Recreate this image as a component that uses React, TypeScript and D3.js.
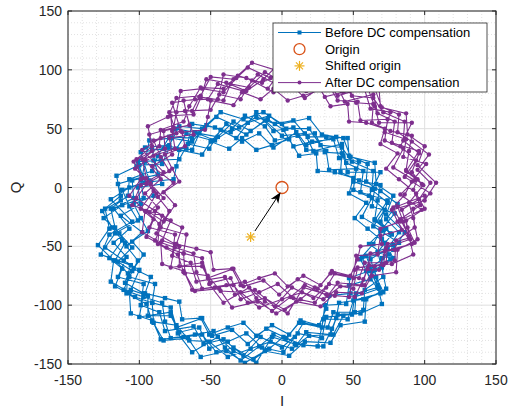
import React from 'react';
import * as d3 from 'd3';

const W = 508;
const H = 409;
const margin = { top: 11, right: 12, bottom: 45, left: 68 };

const xTicks = [-150, -100, -50, 0, 50, 100, 150];
const yTicks = [-150, -100, -50, 0, 50, 100, 150];

// I/Q samples before DC compensation
const beforeDC: [number, number][] = [
  [76, -39], [69, -29], [74, -13], [63, -2], [64, 14], [49, 22], [42, 34], [27, 36], [19, 50], [3, 50],
  [-9, 61], [-24, 55], [-36, 47], [-53, 53], [-63, 42], [-79, 43], [-87, 27], [-91, 14], [-107, 7], [-108, -7],
  [-120, -18], [-117, -34], [-110, -47], [-117, -62], [-108, -73], [-109, -90], [-95, -99], [-91, -114], [-74, -117], [-65, -130],
  [-51, -131], [-38, -144], [-22, -137], [-8, -131], [7, -137], [19, -126], [36, -125], [43, -109], [57, -104], [58, -87],
  [71, -76], [70, -60],
  [82, -47], [64, -33], [72, -19], [61, -7], [69, 13], [46, 13], [43, 27], [38, 43], [17, 36], [8, 51],
  [-6, 48], [-18, 64], [-32, 42], [-47, 51], [-63, 54], [-67, 33], [-83, 33], [-99, 30], [-93, 6], [-107, 0],
  [-120, -10], [-105, -29], [-121, -40], [-127, -57], [-106, -66], [-110, -81], [-97, -90], [-100, -110], [-78, -106], [-73, -124],
  [-63, -140], [-45, -127], [-34, -139], [-18, -149], [-7, -127], [9, -133], [25, -135], [29, -112], [46, -112], [50, -96],
  [69, -90], [59, -71], [76, -61],
  [61, -48], [71, -36], [56, -25], [63, -9], [50, -2], [52, 16], [33, 15], [31, 31], [17, 32], [10, 47],
  [-6, 34], [-16, 46], [-28, 39], [-43, 49], [-51, 33], [-66, 37], [-72, 24], [-90, 23], [-84, 3], [-101, 0],
  [-99, -14], [-113, -24], [-98, -38], [-109, -50], [-101, -62], [-107, -76], [-89, -82], [-91, -98], [-78, -102], [-74, -119],
  [-56, -111], [-49, -126], [-35, -121], [-24, -133], [-11, -120], [3, -128], [12, -115], [28, -119], [30, -100], [45, -99],
  [47, -83], [62, -78], [55, -61],
  [78, -53], [86, -38], [73, -23], [78, -7], [66, 3], [65, 21], [48, 26], [43, 42], [28, 45], [19, 59],
  [0, 54], [-13, 64], [-27, 58], [-43, 64], [-56, 50], [-72, 52], [-79, 36], [-96, 34], [-102, 18], [-116, 10],
  [-113, -7], [-124, -18], [-121, -35], [-129, -49], [-118, -62], [-120, -80], [-107, -89], [-106, -107], [-91, -113], [-83, -130],
  [-66, -128], [-57, -144], [-39, -139], [-26, -149], [-12, -139], [5, -143], [16, -131], [34, -132], [41, -117], [58, -114],
  [59, -95], [73, -86], [70, -68],
  [67, -55], [77, -40], [65, -28], [74, -11], [55, -4], [57, 14], [45, 21], [42, 37], [22, 31], [16, 46],
  [0, 44], [-12, 57], [-25, 45], [-39, 54], [-49, 40], [-67, 46], [-74, 33], [-91, 32], [-87, 11], [-105, 6],
  [-104, -9], [-118, -18], [-107, -35], [-118, -47], [-109, -59], [-115, -76], [-97, -82], [-99, -100], [-86, -106], [-82, -122],
  [-62, -118], [-55, -133], [-41, -129], [-27, -143], [-15, -127], [0, -136], [11, -124], [28, -128], [31, -110], [49, -108],
  [51, -93], [68, -86], [61, -69], [75, -57], [70, -44],
  [73, -35], [65, -27], [67, -11], [69, 2], [54, 6], [41, 13], [42, 29], [30, 30], [23, 46], [11, 44],
  [-5, 40], [-12, 52], [-26, 61], [-35, 50], [-47, 40], [-61, 47], [-75, 50], [-79, 34], [-84, 20], [-100, 19],
  [-99, 6], [-97, -9], [-112, -15], [-125, -26], [-114, -39], [-105, -51], [-115, -63], [-105, -71], [-111, -87], [-97, -93],
  [-84, -98], [-82, -114], [-78, -128], [-61, -125], [-48, -122], [-40, -136], [-29, -147], [-16, -135], [-6, -125], [10, -134],
  [17, -123], [34, -125], [38, -111], [40, -98], [57, -95], [71, -89], [66, -76], [62, -61], [74, -52],
  [82, -38], [73, -27], [81, -14], [69, -3], [59, 5], [60, 20], [47, 27], [46, 42], [31, 43], [18, 43],
  [8, 57], [-5, 54], [-18, 60], [-30, 51], [-46, 60], [-54, 51], [-63, 39], [-78, 42], [-93, 40], [-96, 22],
  [-98, 9], [-115, 3], [-113, -11], [-126, -20], [-119, -34], [-112, -45], [-121, -60], [-112, -69], [-117, -84], [-103, -93],
  [-91, -98], [-90, -115], [-85, -129], [-69, -127], [-56, -125], [-46, -140], [-34, -136], [-20, -146], [-9, -137], [1, -127],
  [15, -134], [29, -135], [35, -120], [39, -108], [55, -107], [70, -99], [67, -83], [65, -70], [78, -60], [72, -47],
  [60, -35], [51, -26], [59, -13], [47, -5], [50, 8], [37, 13], [25, 14], [24, 29], [12, 27], [5, 41],
  [-7, 36], [-18, 32], [-28, 42], [-37, 33], [-50, 39], [-56, 28], [-72, 32], [-74, 18], [-76, 7], [-92, 5],
  [-90, -7], [-104, -14], [-99, -26], [-94, -37], [-105, -46], [-97, -57], [-104, -69], [-92, -76], [-96, -90], [-82, -94],
  [-72, -97], [-70, -112], [-57, -111], [-51, -125], [-38, -119], [-27, -115], [-18, -126], [-7, -117], [5, -125], [13, -113],
  [26, -117], [31, -103], [33, -92], [48, -90], [47, -77], [61, -71], [56, -59], [64, -48],
  [69, -37], [79, -22], [63, -16], [65, -1], [50, 5], [54, 22], [40, 25], [36, 41], [21, 39], [8, 35],
  [1, 49], [-10, 58], [-22, 48], [-34, 56], [-45, 43], [-58, 46], [-63, 32], [-80, 35], [-85, 23], [-101, 22],
  [-96, 4], [-112, -2], [-107, -16], [-101, -28], [-117, -39], [-124, -51], [-111, -62], [-100, -70], [-106, -87], [-94, -92],
  [-94, -109], [-78, -109], [-72, -123], [-58, -119], [-51, -137], [-38, -131], [-25, -124], [-14, -136], [1, -140], [9, -127],
  [15, -115], [32, -119], [36, -106], [51, -106], [52, -90], [67, -85], [63, -71], [59, -58], [78, -49],
];

// I/Q samples after DC compensation
const afterDC: [number, number][] = [
  [98, 3], [91, 13], [96, 29], [85, 40], [86, 56], [71, 64], [64, 76], [49, 78], [41, 92], [25, 92],
  [13, 103], [-2, 97], [-14, 89], [-31, 95], [-41, 84], [-57, 85], [-65, 69], [-69, 56], [-85, 49], [-86, 35],
  [-98, 24], [-95, 8], [-88, -5], [-95, -20], [-86, -31], [-87, -48], [-73, -57], [-69, -72], [-52, -75], [-43, -88],
  [-29, -89], [-16, -102], [0, -95], [14, -89], [29, -95], [41, -84], [58, -83], [65, -67], [79, -62], [80, -45],
  [93, -34], [92, -18],
  [104, -5], [86, 9], [94, 23], [83, 35], [91, 55], [68, 55], [65, 69], [60, 85], [39, 78], [30, 93],
  [16, 90], [4, 106], [-10, 84], [-25, 93], [-41, 96], [-45, 75], [-61, 75], [-77, 72], [-71, 48], [-85, 42],
  [-98, 32], [-83, 13], [-99, 2], [-105, -15], [-84, -24], [-88, -39], [-75, -48], [-78, -68], [-56, -64], [-51, -82],
  [-41, -98], [-23, -85], [-12, -97], [4, -107], [15, -85], [31, -91], [47, -93], [51, -70], [68, -70], [72, -54],
  [91, -48], [81, -29], [98, -19],
  [83, -6], [93, 6], [78, 17], [85, 33], [72, 40], [74, 58], [55, 57], [53, 73], [39, 74], [32, 89],
  [16, 76], [6, 88], [-6, 81], [-21, 91], [-29, 75], [-44, 79], [-50, 66], [-68, 65], [-62, 45], [-79, 42],
  [-77, 28], [-91, 18], [-76, 4], [-87, -8], [-79, -20], [-85, -34], [-67, -40], [-69, -56], [-56, -60], [-52, -77],
  [-34, -69], [-27, -84], [-13, -79], [-2, -91], [11, -78], [25, -86], [34, -73], [50, -77], [52, -58], [67, -57],
  [69, -41], [84, -36], [77, -19],
  [100, -11], [108, 4], [95, 19], [100, 35], [88, 45], [87, 63], [70, 68], [65, 84], [50, 87], [41, 101],
  [22, 96], [9, 106], [-5, 100], [-21, 106], [-34, 92], [-50, 94], [-57, 78], [-74, 76], [-80, 60], [-94, 52],
  [-91, 35], [-102, 24], [-99, 7], [-107, -7], [-96, -20], [-98, -38], [-85, -47], [-84, -65], [-69, -71], [-61, -88],
  [-44, -86], [-35, -102], [-17, -97], [-4, -107], [10, -97], [27, -101], [38, -89], [56, -90], [63, -75], [80, -72],
  [81, -53], [95, -44], [92, -26],
  [89, -13], [99, 2], [87, 14], [96, 31], [77, 38], [79, 56], [67, 63], [64, 79], [44, 73], [38, 88],
  [22, 86], [10, 99], [-3, 87], [-17, 96], [-27, 82], [-45, 88], [-52, 75], [-69, 74], [-65, 53], [-83, 48],
  [-82, 33], [-96, 24], [-85, 7], [-96, -5], [-87, -17], [-93, -34], [-75, -40], [-77, -58], [-64, -64], [-60, -80],
  [-40, -76], [-33, -91], [-19, -87], [-5, -101], [7, -85], [22, -94], [33, -82], [50, -86], [53, -68], [71, -66],
  [73, -51], [90, -44], [83, -27], [97, -15], [92, -2],
  [95, 7], [87, 15], [89, 31], [91, 44], [76, 48], [63, 55], [64, 71], [52, 72], [45, 88], [33, 86],
  [17, 82], [10, 94], [-4, 103], [-13, 92], [-25, 82], [-39, 89], [-53, 92], [-57, 76], [-62, 62], [-78, 61],
  [-77, 48], [-75, 33], [-90, 27], [-103, 16], [-92, 3], [-83, -9], [-93, -21], [-83, -29], [-89, -45], [-75, -51],
  [-62, -56], [-60, -72], [-56, -86], [-39, -83], [-26, -80], [-18, -94], [-7, -105], [6, -93], [16, -83], [32, -92],
  [39, -81], [56, -83], [60, -69], [62, -56], [79, -53], [93, -47], [88, -34], [84, -19], [96, -10],
  [104, 4], [95, 15], [103, 28], [91, 39], [81, 47], [82, 62], [69, 69], [68, 84], [53, 85], [40, 85],
  [30, 99], [17, 96], [4, 102], [-8, 93], [-24, 102], [-32, 93], [-41, 81], [-56, 84], [-71, 82], [-74, 64],
  [-76, 51], [-93, 45], [-91, 31], [-104, 22], [-97, 8], [-90, -3], [-99, -18], [-90, -27], [-95, -42], [-81, -51],
  [-69, -56], [-68, -73], [-63, -87], [-47, -85], [-34, -83], [-24, -98], [-12, -94], [2, -104], [13, -95], [23, -85],
  [37, -92], [51, -93], [57, -78], [61, -66], [77, -65], [92, -57], [89, -41], [87, -28], [100, -18], [94, -5],
  [82, 7], [73, 16], [81, 29], [69, 37], [72, 50], [59, 55], [47, 56], [46, 71], [34, 69], [27, 83],
  [15, 78], [4, 74], [-6, 84], [-15, 75], [-28, 81], [-34, 70], [-50, 74], [-52, 60], [-54, 49], [-70, 47],
  [-68, 35], [-82, 28], [-77, 16], [-72, 5], [-83, -4], [-75, -15], [-82, -27], [-70, -34], [-74, -48], [-60, -52],
  [-50, -55], [-48, -70], [-35, -69], [-29, -83], [-16, -77], [-5, -73], [4, -84], [15, -75], [27, -83], [35, -71],
  [48, -75], [53, -61], [55, -50], [70, -48], [69, -35], [83, -29], [78, -17], [86, -6],
  [91, 5], [101, 20], [85, 26], [87, 41], [72, 47], [76, 64], [62, 67], [58, 83], [43, 81], [30, 77],
  [23, 91], [12, 100], [0, 90], [-12, 98], [-23, 85], [-36, 88], [-41, 74], [-58, 77], [-63, 65], [-79, 64],
  [-74, 46], [-90, 40], [-85, 26], [-79, 14], [-95, 3], [-102, -9], [-89, -20], [-78, -28], [-84, -45], [-72, -50],
  [-72, -67], [-56, -67], [-50, -81], [-36, -77], [-29, -95], [-16, -89], [-3, -82], [8, -94], [23, -98], [31, -85],
  [37, -73], [54, -77], [58, -64], [73, -64], [74, -48], [89, -43], [85, -29], [81, -16], [100, -7],
];

const origin: [number, number] = [0, 0];
const shiftedOrigin: [number, number] = [-22, -42];
const arrowFrom: [number, number] = [-19, -37];
const arrowTo: [number, number] = [-1, -4];

const legendLabels = ['Before DC compensation', 'Origin', 'Shifted origin', 'After DC compensation'];

const BLUE = '#0072BD';
const RED = '#D95319';
const YELLOW = '#EDB120';
const PURPLE = '#7E2F8E';
const AXIS = '#262626';
const FONT = '"Liberation Sans", Arial, Helvetica, sans-serif';

const Star = ({ cx, cy, r }: { cx: number; cy: number; r: number }) => (
  <g stroke={YELLOW} strokeWidth={1.2}>
    {[0, 45, 90, 135].map(a => {
      const dx = r * Math.cos((a * Math.PI) / 180);
      const dy = r * Math.sin((a * Math.PI) / 180);
      return <line key={a} x1={cx - dx} y1={cy - dy} x2={cx + dx} y2={cy + dy} />;
    })}
  </g>
);

export default function App() {
  const x = d3.scaleLinear().domain([-150, 150]).range([margin.left, W - margin.right]);
  const y = d3.scaleLinear().domain([-150, 150]).range([H - margin.bottom, margin.top]);
  const x0 = margin.left, x1 = W - margin.right, y0 = margin.top, y1 = H - margin.bottom;

  const line = d3.line<[number, number]>().x(d => x(d[0])).y(d => y(d[1]));
  const minor = d3.range(-140, 150, 10).filter(v => v % 50 !== 0);

  // arrow geometry in pixel space
  const ax0 = x(arrowFrom[0]), ay0 = y(arrowFrom[1]);
  const ax1 = x(arrowTo[0]), ay1 = y(arrowTo[1]);
  const len = Math.hypot(ax1 - ax0, ay1 - ay0);
  const ux = (ax1 - ax0) / len, uy = (ay1 - ay0) / len;
  const nx = -uy, ny = ux;
  const hl = 11, hw = 4.5;
  const head = [
    [ax1, ay1],
    [ax1 - hl * ux + hw * nx, ay1 - hl * uy + hw * ny],
    [ax1 - hl * 0.7 * ux, ay1 - hl * 0.7 * uy],
    [ax1 - hl * ux - hw * nx, ay1 - hl * uy - hw * ny],
  ].map(p => p.join(',')).join(' ');

  const lg = { x: 273, y: 23, w: 214, h: 69 };
  const rowY = (i: number) => lg.y + 9.5 + i * 16.7;

  return (
    <svg width={W} height={H} style={{ position: 'absolute', left: 0, top: 0, background: '#fff' }} fontFamily={FONT}>
      <defs>
        <clipPath id="plot">
          <rect x={x0} y={y0} width={x1 - x0} height={y1 - y0} />
        </clipPath>
      </defs>
      <rect x={0} y={0} width={W} height={H} fill="#fff" />

      {/* minor grid */}
      <g stroke="#cfcfcf" strokeWidth={0.6} strokeDasharray="1,2">
        {minor.map(v => <line key={'mx' + v} x1={x(v)} x2={x(v)} y1={y0} y2={y1} />)}
        {minor.map(v => <line key={'my' + v} y1={y(v)} y2={y(v)} x1={x0} x2={x1} />)}
      </g>
      {/* major grid */}
      <g stroke="#dfdfdf" strokeWidth={1}>
        {xTicks.map(v => <line key={'gx' + v} x1={x(v)} x2={x(v)} y1={y0} y2={y1} />)}
        {yTicks.map(v => <line key={'gy' + v} y1={y(v)} y2={y(v)} x1={x0} x2={x1} />)}
      </g>

      <g clipPath="url(#plot)">
        <path d={line(beforeDC) ?? ''} fill="none" stroke={BLUE} strokeWidth={1.1} />
        {beforeDC.map((d, i) => (
          <rect key={'b' + i} x={x(d[0]) - 2.2} y={y(d[1]) - 2.2} width={4.4} height={4.4} fill={BLUE} />
        ))}
        <path d={line(afterDC) ?? ''} fill="none" stroke={PURPLE} strokeWidth={1.1} />
        {afterDC.map((d, i) => (
          <circle key={'a' + i} cx={x(d[0])} cy={y(d[1])} r={2.2} fill={PURPLE} />
        ))}
        <circle cx={x(origin[0])} cy={y(origin[1])} r={6} fill="none" stroke={RED} strokeWidth={1.3} />
        <Star cx={x(shiftedOrigin[0])} cy={y(shiftedOrigin[1])} r={5} />
        <line x1={ax0} y1={ay0} x2={ax1 - hl * 0.7 * ux} y2={ay1 - hl * 0.7 * uy} stroke="#000" strokeWidth={1} />
        <polygon points={head} fill="#000" />
      </g>

      {/* axes box and ticks */}
      <rect x={x0} y={y0} width={x1 - x0} height={y1 - y0} fill="none" stroke={AXIS} strokeWidth={1} />
      <g stroke={AXIS} strokeWidth={1}>
        {xTicks.map(v => (
          <g key={'tx' + v}>
            <line x1={x(v)} x2={x(v)} y1={y1} y2={y1 - 4} />
            <line x1={x(v)} x2={x(v)} y1={y0} y2={y0 + 4} />
          </g>
        ))}
        {yTicks.map(v => (
          <g key={'ty' + v}>
            <line y1={y(v)} y2={y(v)} x1={x0} x2={x0 + 4} />
            <line y1={y(v)} y2={y(v)} x1={x1} x2={x1 - 4} />
          </g>
        ))}
      </g>
      <g fill={AXIS} fontSize={14}>
        {xTicks.map(v => (
          <text key={'lx' + v} x={x(v)} y={y1 + 21} textAnchor="middle">{v}</text>
        ))}
        {yTicks.map(v => (
          <text key={'ly' + v} x={x0 - 6} y={y(v) + 5} textAnchor="end">{v}</text>
        ))}
      </g>
      <text x={x(0)} y={H - 3} textAnchor="middle" fontSize={15} fill={AXIS}>I</text>
      <text transform={`translate(21,${y(0)}) rotate(-90)`} textAnchor="middle" fontSize={15} fill={AXIS}>Q</text>

      {/* legend */}
      <rect x={lg.x} y={lg.y} width={lg.w} height={lg.h} fill="#fff" stroke={AXIS} strokeWidth={0.8} />
      {legendLabels.map((label, i) => (
        <text key={label} x={lg.x + 52} y={rowY(i) + 4.5} fontSize={13} fill="#000">{label}</text>
      ))}
      <line x1={lg.x + 5} x2={lg.x + 48} y1={rowY(0)} y2={rowY(0)} stroke={BLUE} strokeWidth={1} />
      <rect x={lg.x + 24.5} y={rowY(0) - 2} width={4} height={4} fill={BLUE} />
      <circle cx={lg.x + 26.5} cy={rowY(1)} r={5.5} fill="none" stroke={RED} strokeWidth={1.3} />
      <Star cx={lg.x + 26.5} cy={rowY(2)} r={5} />
      <line x1={lg.x + 5} x2={lg.x + 48} y1={rowY(3)} y2={rowY(3)} stroke={PURPLE} strokeWidth={1} />
      <circle cx={lg.x + 26.5} cy={rowY(3)} r={2} fill={PURPLE} />
    </svg>
  );
}
